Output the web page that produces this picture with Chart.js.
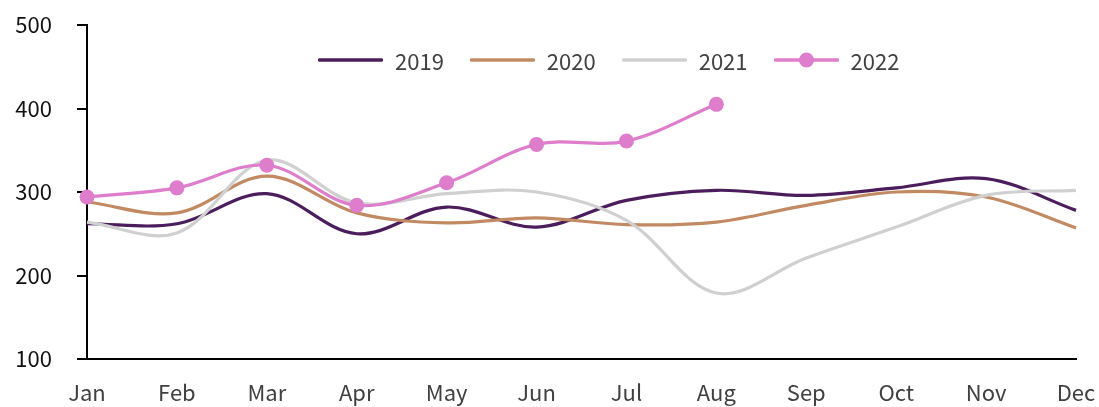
<!DOCTYPE html>
<html>
<head>
<meta charset="utf-8">
<script src="https://cdn.jsdelivr.net/npm/chart.js@4/dist/chart.umd.min.js"></script>
<style>
  body { margin: 0; background: #fff; }
  #wrap { position: relative; width: 1099px; height: 407px; }
  #legend { position: absolute; left: 318px; top: 45px; display: flex; align-items: center;
            font-family: "Noto Sans CJK KR", "Noto Sans", sans-serif; font-size: 22px; color: #404040; }
  .item { display: flex; align-items: center; margin-right: 26px; }
  .item span { margin-left: 12px; line-height: 30px; }
</style>
</head>
<body>
<div id="wrap">
  <canvas id="chart" width="1099" height="407"></canvas>
  <div id="legend"></div>
</div>
<script>
// -----------------------------
// Datos
// -----------------------------
const months = ['Jan','Feb','Mar','Apr','May','Jun','Jul','Aug','Sep','Oct','Nov','Dec'];
const yTicks = [100, 200, 300, 400, 500];

const s2019 = [262, 262, 298, 250, 282, 258, 290, 302, 296, 305, 316, 278];
const s2020 = [288, 275, 319, 275, 263, 269, 261, 264, 284, 300, 294, 257];
const s2021 = [264, 251, 338, 287, 298, 300, 266, 179, 221, 258, 296, 302];
const s2022 = [294, 305, 332, 284, 311, 357, 361, 405];

const series = [
  { label: '2019', data: s2019, color: '#4b1d5c', points: false, order: 4 },
  { label: '2020', data: s2020, color: '#c28a63', points: false, order: 3 },
  { label: '2021', data: s2021, color: '#d0d0d0', points: false, order: 2 },
  { label: '2022', data: s2022, color: '#de7dcb', points: true,  order: 1 }
];

const FONT = '"Noto Sans CJK KR", "Noto Sans", sans-serif';

// -----------------------------
// Leyenda HTML
// -----------------------------
const legend = document.getElementById('legend');
series.forEach(s => {
  const item = document.createElement('div');
  item.className = 'item';
  const dot = s.points ? `<circle cx="32.5" cy="8" r="7.5" fill="${s.color}"/>` : '';
  item.innerHTML = `<svg width="65" height="16"><line x1="1.5" y1="8" x2="63.5" y2="8" stroke="${s.color}" stroke-width="3.5" stroke-linecap="round"/>${dot}</svg><span>${s.label}</span>`;
  legend.appendChild(item);
});

// sin padding automático de los ejes: el área queda fija por layout.padding
function noPad(scale) {
  scale.paddingTop = 0; scale.paddingBottom = 0;
  scale.paddingLeft = 0; scale.paddingRight = 0;
}

// -----------------------------
// Gráfico
// -----------------------------
new Chart(document.getElementById('chart'), {
  type: 'line',
  data: {
    labels: months,
    datasets: series.map(s => ({
      label: s.label,
      data: s.data,
      borderColor: s.color,
      backgroundColor: s.color,
      borderWidth: 3.2,
      tension: 0.35,
      pointRadius: s.points ? 7.5 : 0,
      pointHoverRadius: s.points ? 7.5 : 0,
      pointBorderWidth: 0,
      order: s.order,
      clip: false
    }))
  },
  options: {
    responsive: false,
    animation: false,
    layout: { padding: { top: 25, right: 23, left: 0, bottom: 0 } },
    plugins: { legend: { display: false }, tooltip: { enabled: false } },
    scales: {
      x: {
        offset: false,
        grid: { display: false, drawTicks: false },
        border: { display: true, color: '#000', width: 2 },
        ticks: { color: '#404040', font: { family: FONT, size: 22 }, padding: 20, maxRotation: 0, autoSkip: false },
        afterFit: scale => { scale.height = 48; noPad(scale); }
      },
      y: {
        min: 100,
        max: 500,
        afterBuildTicks: scale => { scale.ticks = yTicks.map(v => ({ value: v })); },
        grid: { drawOnChartArea: false, drawTicks: true, tickLength: 10, color: '#000', lineWidth: 2 },
        border: { display: true, color: '#000', width: 2 },
        ticks: { color: '#111', font: { family: FONT, size: 22 }, padding: 25 },
        afterFit: scale => { scale.width = 87; noPad(scale); }
      }
    }
  }
});
</script>
</body>
</html>
